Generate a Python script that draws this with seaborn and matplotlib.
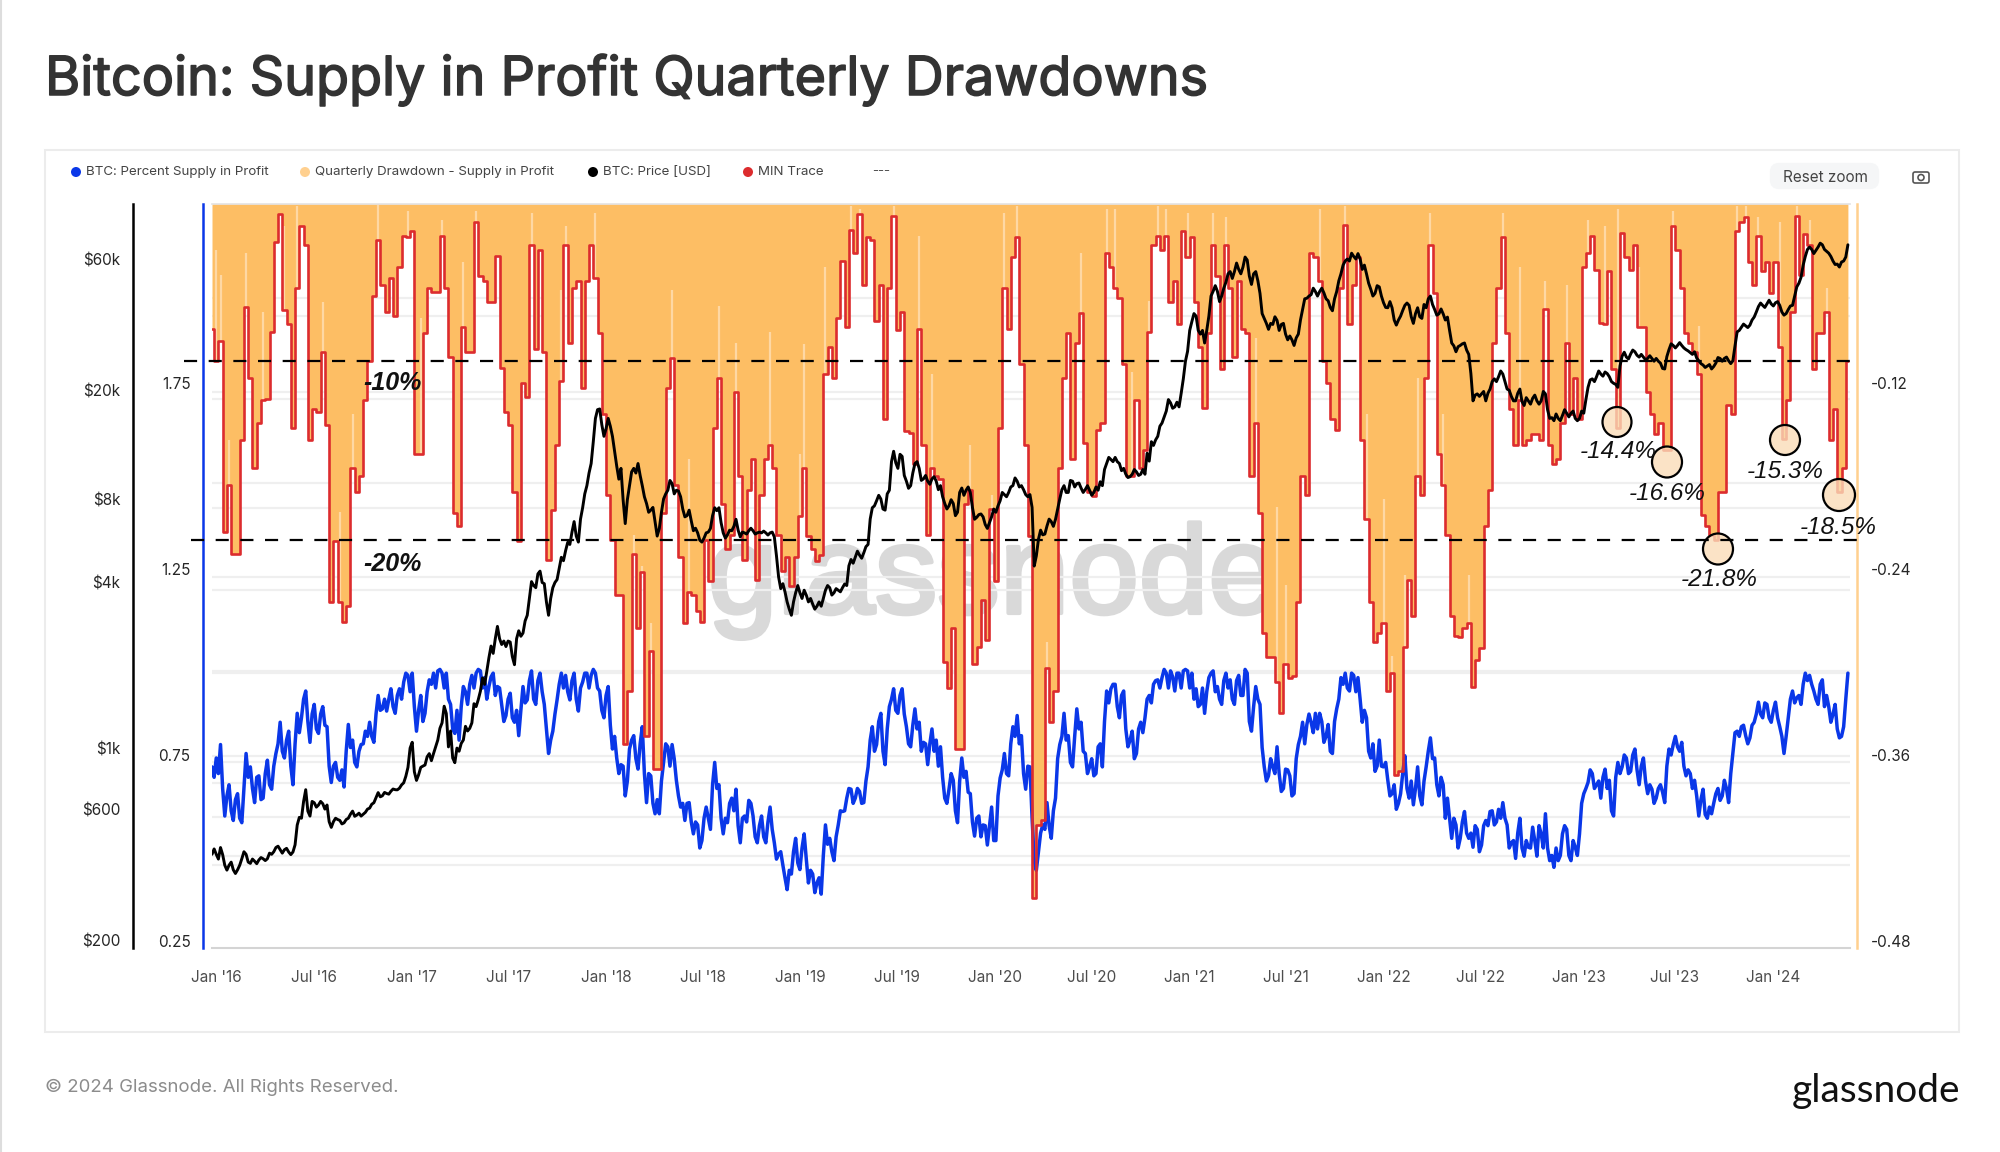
import numpy as np
import pandas as pd
import matplotlib
matplotlib.use("Agg")
import matplotlib.pyplot as plt
import matplotlib.patheffects as pe
from matplotlib.patches import Ellipse, Rectangle, FancyBboxPatch, Circle
import seaborn as sns

# values, one sample every 8 days
start_date = "2015-12-23"

# MIN trace, drawdown in percent (positive = below zero)
min_trace_pct = [
    8.5,10.6,9.3,21.6,18.6,23,23,15.7,7.1,11.7,17.5,14.6,13.1,13,8.7,2.9,1.1,7.3,8.2,14.9,5.9,1.9,3.1,15.7,13.7,13.9,10,14.7,26.1,22.2,26.1,27.4,26.4,17.5,19,18,13.1,10.6,6.4,2.8,5.7,7.4,5.2,7.7,4.5,2.5,2.6,2.2,16.6,16.6,8.8,5.9,6.1,6.1,2.5,5.9,10.3,20.4,21.2,8.4,10,10,1.6,5.1,5.4,
    6.8,6.8,3.8,11,13.9,14.7,19,22.2,12,12.9,3.1,9.8,3.4,10,23.4,20.2,16,11.9,3.1,9.4,5.9,5.4,12.3,5.4,3.1,5.2,8.8,14,19.2,22.1,25.7,25.7,35.3,31.9,23,27.8,24.2,34.8,29.3,36.9,36.9,20.4,12.3,10.4,18.6,23.2,27.5,25.5,25.7,26.7,27.4,22.1,24.8,14.9,11.7,19.8,22.7,21.8,12.6,18,23.4,18.9,16.9,24.7,
    19.2,16.9,16,17.5,21.8,24.1,23.2,25.1,23.2,20.6,17.5,21.9,22.7,23.5,23.1,11.4,9.7,11.7,7.8,4.1,8.4,2.1,3.6,1.1,5.7,2.6,2.8,8,5.7,14.3,5.9,1.2,8.6,7.4,15.1,15.2,17.2,8.5,16,21.8,17.5,18,18.2,30,31.7,27.8,35.6,35.6,19.8,18.9,30.1,29,26,28.6,20.1,24.8,14.9,5.9,8.5,3.9,2.6,10.8,16,21.9,
    45.2,40.5,40.2,30.4,33.9,31.9,17.5,11.7,8.8,16.9,9.4,7.5,15.9,19,19.3,15,14.6,3.6,4.5,5.9,6.5,10.8,18,18,13.1,17.5,16.3,8.7,3.1,2.5,3.4,2.5,6.8,5.4,8.2,2.2,3.9,2.6,6.8,9.7,13.6,8.8,3.1,5.1,11.1,3.1,5.9,10.3,5.4,8.5,8.8,18,14.6,20.4,28.1,29.7,29.7,31.3,33.3,30.1,31,30.9,26.1,18,19.2,
    3.6,3.9,5.4,10.6,12,14.3,15,5.9,1.8,8.2,5.7,3.9,15.7,20.8,26.1,28.7,28.1,27.5,31.9,30.7,37.3,37,29,24.7,27,18,19.2,11.7,3.1,6.2,16.6,18.6,21.8,27,28.3,28.4,27.8,27.5,31.6,29.9,29.1,21.2,18.9,9.4,5.9,2.6,8.8,13.7,16,13.1,16,15.7,15.3,15.3,15.7,7.2,16,17.2,16.9,14.6,9.4,14,11.7,14.3,4.5,
    3.6,2.5,4.7,8.1,8.2,4.8,11.1,14.9,2.3,3.9,4.7,3.1,8.4,8.4,12.6,14,15.3,14.6,16.3,16.3,1.9,3.4,5.9,8.8,9.4,10,11.4,20.5,21.2,21.8,22.1,19,19,13.4,14,2.2,1.6,1.3,4.2,5.7,2.5,4.8,4.2,6.2,4.2,9.7,15.6,13.1,7.4,1.2,5,2.4,3.1,11.1,8.8,8.8,7.4,15.7,13.7,19,17.5,10.6,
]

# short recoveries of the daily drawdown above the MIN trace (sample number, percent)
spike_idx = [8,4,2,1,12,17,20,26,33,30,39,46,54,49,59,62,75,83,90,82,108,112,119,123,99,103,101,131,139,138,144,150,152,160,166,169,178,183,186,189,
             196,204,210,212,216,220,222,224,229,235,238,245,250,252,260,266,271,275,280,277,283,286,289,295,303,307,313,318,323,327,330,335,343,349,358,360,363,368,372,375,379]
spike_pct = [3.6,15.7,5,3.4,7.4,1.9,0.6,6.8,14,20.3,0.5,0.9,1.5,7.8,4.2,0.9,1,1.9,1,6,6,16.9,7,9.4,21.8,27.5,23.8,8.7,9.5,16.6,4.5,0.6,0.8,0.6,2.5,11.4,16,19.2,1,0.6,
             28.7,3.6,0.8,0.8,11.3,6.7,0.6,0.8,1,1,1.3,9.1,20,25,0.8,0.6,14,19.5,24.4,29.6,11.7,1,14,24.4,1,4.5,5.4,5.7,1.5,1.9,0.8,4.5,0.9,8.3,0.6,0.6,1.3,1.6,0.6,1.5,5.9]

supply_in_profit = [
    .718,.742,.778,.586,.67,.574,.646,.568,.754,.718,.622,.694,.634,.736,.658,.754,.838,.742,.814,.67,.862,.85,.922,.784,.886,.808,.88,.826,.676,.73,.682,.664,.832,.79,.718,.778,.814,.838,.784,.91,.874,.868,.928,.862,.928,.946,.964,.97,.814,.91,.862,.952,.97,.976,.97,.97,.886,.808,.79,.934,.886,.964,.97,.976,.958,
    .934,.97,.934,.886,.856,.916,.838,.802,.934,.898,.976,.886,.97,.886,.754,.814,.898,.97,.964,.898,.97,.868,.946,.97,.964,.97,.922,.85,.934,.766,.742,.724,.64,.766,.802,.712,.826,.622,.694,.592,.592,.73,.772,.778,.682,.61,.574,.622,.538,.562,.52,.61,.55,.73,.67,.538,.568,.634,.658,.514,.586,.628,.586,.514,
    .586,.514,.61,.514,.484,.454,.388,.43,.526,.442,.538,.406,.43,.406,.376,.562,.526,.466,.562,.598,.634,.658,.634,.652,.622,.718,.826,.778,.862,.724,.88,.928,.862,.928,.826,.772,.874,.838,.784,.724,.82,.79,.772,.634,.658,.682,.568,.742,.706,.646,.532,.586,.562,.508,.61,.52,.688,.754,.694,.826,.856,.802,.658,.718,
    .466,.49,.562,.622,.526,.634,.778,.862,.802,.718,.874,.838,.754,.718,.694,.772,.718,.922,.928,.94,.85,.922,.772,.814,.754,.838,.85,.91,.94,.952,.958,.97,.976,.922,.97,.976,.976,.97,.928,.886,.862,.958,.976,.934,.886,.97,.952,.886,.964,.91,.97,.814,.934,.886,.718,.694,.718,.772,.652,.712,.694,.646,.778,.838,.832,
    .838,.862,.862,.784,.832,.754,.874,.958,.97,.922,.964,.958,.838,.85,.742,.706,.79,.718,.682,.646,.604,.646,.748,.634,.616,.718,.616,.718,.796,.742,.64,.67,.634,.526,.562,.526,.598,.526,.502,.55,.508,.574,.598,.562,.604,.622,.562,.514,.472,.58,.478,.502,.556,.478,.538,.592,.466,.448,.466,.538,.55,.466,.502,.538,.646,
    .676,.7,.67,.634,.712,.682,.586,.73,.718,.742,.706,.766,.67,.742,.646,.658,.634,.67,.622,.766,.778,.772,.784,.694,.7,.682,.586,.658,.58,.592,.646,.628,.682,.622,.754,.814,.826,.802,.796,.838,.892,.85,.886,.838,.892,.826,.754,.85,.922,.904,.886,.97,.964,.922,.886,.952,.91,.838,.886,.796,.826,.97,
]

# the same line read half way between those samples, it swings a lot inside 8 days
supply_between = [
    .69,.70,.66,.64,.60,.63,.58,.66,.69,.66,.69,.63,.70,.67,.72,.78,.76,.79,.72,.78,.81,.90,.84,.86,.82,.86,.83,.72,.72,.69,.71,.76,.77,.73,.76,.78,.80,.80,.86,.87,.90,.90,.88,.91,.90,.97,.92,.88,.87,.84,.92,.94,.93,.98,.93,.90,.82,.87,.88,.92,.94,.93,.98,.93,.90,
    .96,.91,.93,.84,.90,.85,.87,.87,.89,.95,.90,.95,.92,.82,.79,.86,.94,.93,.92,.95,.90,.93,.97,.93,.98,.93,.87,.91,.83,.80,.70,.72,.68,.79,.74,.78,.70,.70,.62,.63,.68,.78,.72,.74,.64,.62,.62,.57,.57,.50,.58,.58,.67,.66,.58,.58,.62,.60,.56,.58,.57,.62,.53,.56,
    .53,.57,.55,.47,.49,.42,.44,.49,.46,.50,.47,.44,.38,.42,.48,.51,.49,.53,.60,.60,.66,.62,.66,.62,.68,.79,.76,.84,.76,.82,.90,.87,.91,.86,.78,.83,.82,.76,.78,.78,.76,.72,.69,.62,.70,.60,.68,.69,.65,.57,.58,.53,.56,.56,.52,.64,.71,.70,.78,.80,.78,.70,.72,.58,
    .44,.54,.55,.56,.60,.74,.80,.79,.73,.80,.82,.76,.70,.74,.70,.78,.84,.89,.94,.88,.91,.82,.79,.74,.82,.81,.90,.89,.95,.93,.98,.93,.96,.97,.93,.98,.93,.90,.88,.93,.92,.97,.92,.90,.95,.93,.90,.95,.91,.98,.84,.88,.90,.77,.68,.74,.70,.70,.66,.71,.64,.74,.80,.78,.86,
    .81,.82,.84,.80,.76,.84,.90,.94,.93,.97,.92,.90,.87,.76,.78,.72,.72,.73,.64,.67,.62,.70,.66,.68,.66,.64,.68,.76,.74,.67,.69,.58,.58,.58,.50,.57,.54,.54,.56,.49,.56,.56,.60,.57,.58,.58,.50,.52,.54,.50,.52,.50,.52,.56,.50,.50,.48,.50,.48,.56,.48,.52,.48,.62,.66,
    .71,.66,.68,.69,.66,.60,.69,.70,.75,.70,.75,.71,.72,.68,.67,.62,.66,.65,.72,.75,.80,.76,.72,.71,.66,.64,.63,.59,.61,.62,.66,.64,.66,.70,.81,.80,.83,.78,.83,.86,.86,.89,.85,.87,.85,.80,.80,.90,.89,.91,.94,.95,.94,.90,.94,.88,.88,.86,.82,.80,.90,
]

btc_price = [
    411,411,435,375,375,361,361,396,411,381,388,392,396,396,411,435,427,427,419,419,525,556,706,566,633,621,628,621,515,556,546,535,556,590,571,566,584,605,633,689,671,684,697,706,715,748,851,1050,763,851,868,955,955,1070,1235,1336,1154,885,974,1070,1154,1235,1415,1610,1705,
    2130,2210,2770,2380,2340,2430,2010,2670,2620,3040,4030,3830,4400,3960,3040,3830,4100,4940,5220,5500,6660,5610,7480,9000,10830,15800,17100,13600,15800,13600,10600,10400,6550,9000,10400,10830,9000,7750,7330,6660,6290,8050,8660,9150,8660,8200,6930,7330,6170,6060,5610,6060,6290,7480,7480,6060,5960,6170,6790,5860,6060,6170,6170,6060,
    6060,6060,6060,5860,4190,3960,3400,3040,3670,3670,3750,3400,3340,3280,3280,3750,3830,3670,3750,3830,3900,4850,4940,5030,5130,5500,7480,7930,8050,7330,8660,12000,10400,11500,9340,9000,10830,10400,9520,9340,9520,9340,9000,7750,7600,7750,7200,8820,8660,8500,6790,7060,6930,6290,6930,7200,7930,8350,8500,9000,9340,9000,8350,8350,
    4590,5750,5960,6420,6660,6790,8050,9000,8500,9340,9150,8820,8720,8660,8500,8660,9000,10830,11200,11400,10830,10400,9630,9900,10100,9900,9900,11050,12600,13600,15200,16800,18000,17400,17400,22000,27700,35500,37200,32000,29700,37200,45800,45800,44000,49400,54000,54000,55000,56100,59500,48500,54000,45000,36500,33300,34700,35900,34700,32000,31500,29100,32000,39300,43200,
    44500,45700,45700,45200,42300,38900,45700,53000,59000,59000,61300,62800,55000,53000,46600,45000,47500,41600,39900,39900,34500,37200,40700,40700,35000,39900,36500,39900,44000,39300,37900,37900,36900,29700,27600,29100,29700,27000,18300,19400,19400,18300,20200,22000,22400,22900,20200,19000,18300,20200,17600,18300,18700,18300,18300,19400,15800,15500,15800,16200,16500,16500,15800,15800,16500,
    20500,22000,22400,22900,23300,22400,21200,20500,26600,26400,27100,27600,26400,26400,26100,26100,26100,25100,23900,28100,29100,29100,29100,28100,27400,27600,25600,24700,24500,23900,25100,26100,26100,25600,25600,32600,33900,34300,34500,36900,40300,40700,41200,41200,41600,40700,37500,39300,40700,47500,51500,61300,66300,62800,66300,67600,64000,61300,57300,56100,59000,67600,
]

price_between = [
    430,395,410,360,385,350,375,420,385,395,380,400,390,415,420,440,415,432,410,445,560,640,590,640,610,640,600,540,540,550,530,550,575,565,580,575,600,625,660,665,690,680,710,705,735,790,1000,820,800,860,930,900,1010,1180,1420,1010,920,1000,1040,1200,1180,1450,1500,1800,1900,
    2350,2500,2500,2450,2450,2150,2500,2550,2900,3500,3900,4300,4000,3400,3500,4000,4500,4800,5600,6100,5900,6800,8400,10000,13000,17000,15000,14500,14800,12000,9500,8000,8000,10100,10000,9800,8200,7200,7500,5900,7200,8400,9400,8400,8600,7400,7000,6700,6300,5700,5800,6100,7000,7300,6600,5800,6200,6400,6200,6100,6000,6300,6000,6100,
    6150,5950,6100,5000,3800,3700,3200,3400,3900,3500,3600,3500,3200,3400,3500,3900,3600,3800,3700,3950,4600,4700,5200,4900,5400,6800,7600,8300,7400,8400,11000,10900,11700,9800,8800,10000,11000,9400,9800,9100,9700,8700,8200,7400,8000,7000,8500,8300,8900,7500,6900,7100,6500,6600,7400,7600,8500,8200,8900,9600,8900,8700,8200,7500,
    5000,6200,6000,6800,6400,7400,8700,8500,9400,8900,9200,8500,9000,8300,8900,9300,10300,11400,11000,11000,10200,9900,9700,10300,9800,10300,11800,13000,13200,14800,16000,18500,17200,18100,19500,25500,33000,38000,33000,33000,33000,44000,48000,42000,47000,53000,51000,58000,53000,61000,52000,53000,50000,38000,35000,35000,37000,33000,35000,30500,30500,31000,36000,43000,44000,
    47000,44000,47000,43000,40000,43000,50000,57000,60000,63000,60000,60000,57000,49000,44000,48000,44000,40000,42000,36000,36000,39000,41500,37000,38000,37000,41000,43000,41000,37500,39500,36000,33000,29000,28800,29500,28000,23000,19200,19000,19800,19500,21500,21500,23500,21500,20000,18300,19500,18200,18800,17800,19200,17800,19800,17000,15900,16400,15500,17000,16000,16800,15500,16800,18500,
    21800,21500,23500,22500,23000,21500,21000,24500,27500,26000,28000,26800,27000,25800,26700,25500,25500,24000,26500,29500,28500,29800,28500,27800,27000,26200,25000,24200,24800,24400,26300,25500,26400,25000,29000,33000,34800,33800,36000,38500,41500,40000,42500,40500,42000,38500,38000,40500,44000,49000,57000,65000,65000,64500,68500,65000,63000,59000,57500,58500,61000,
]

tick_dates = pd.date_range("2016-01-01", "2024-01-01", freq="6MS")
tick_labels = ["Jan '16","Jul '16","Jan '17","Jul '17","Jan '18","Jul '18","Jan '19","Jul '19","Jan '20",
               "Jul '20","Jan '21","Jul '21","Jan '22","Jul '22","Jan '23","Jul '23","Jan '24"]
price_ticks = [200, 600, 1000, 4000, 8000, 20000, 60000]
price_labels = ["$200", "$600", "$1k", "$4k", "$8k", "$20k", "$60k"]
supply_ticks = [0.25, 0.75, 1.25, 1.75]
dd_ticks = [-0.48, -0.36, -0.24, -0.12]
grid_levels = [1.978,1.93,1.726,1.708,1.48,1.414,1.228,1.194,0.976,0.97,0.748,0.73,0.676,0.582,0.478,0.454]

BLUE = "#0A37E8"
ORANGE = "#FDBE64"
ORANGE_AXIS = "#FFD08F"
RED = "#DC2C2E"
TEXT = "#4d4d4d"


def merge_samples(on_grid, between):
    # alternate the two readings, 4 days apart
    merged = []
    for i, v in enumerate(on_grid):
        merged.append(v)
        if i < len(between):
            merged.append(between[i])
    return merged


sns.set_theme(style="white")
plt.rcParams["font.family"] = ["Inter", "Liberation Sans", "DejaVu Sans"]

W, H = 2000, 1152
fig = plt.figure(figsize=(W / 100, H / 100), dpi=100, facecolor="white")
rect = [212 / W, 1 - 948 / H, (1849.5 - 212) / W, (948 - 204) / H]

# page furniture sits behind the chart, in pixel coordinates
bg = fig.add_axes([0, 0, 1, 1], zorder=0)
bg.set_xlim(0, W)
bg.set_ylim(H, 0)
bg.axis("off")
bg.add_patch(Rectangle((45, 150), 1913.5, 882, fc="white", ec="#ececec", lw=1.5))
bg.plot([0.8, 0.8], [0, H], color="#dddddd", lw=1.5)
bg.text(708, 613, "glassnode", family="Liberation Sans", fontsize=90, color="#d9d9d9", va="baseline", ha="left",
        path_effects=[pe.withStroke(linewidth=3, foreground="#d9d9d9")])

ax_dd = fig.add_axes(rect, zorder=1)
ax_supply = ax_dd.twinx()
ax_red = ax_dd.twinx()
ax_price = ax_dd.twinx()
ax_supply.set_zorder(2)
ax_red.set_zorder(3)
ax_price.set_zorder(4)
for a in (ax_dd, ax_supply, ax_red, ax_price):
    a.patch.set_visible(False)
    for s in a.spines.values():
        s.set_visible(False)
    a.grid(False)

dates = pd.date_range(start_date, periods=len(min_trace_pct), freq="8D")
drawdown = -np.array(min_trace_pct) / 100
supply_all = merge_samples(supply_in_profit, supply_between)
price_all = merge_samples(btc_price, price_between)

# drawdown area hangs from zero, the MIN trace outlines it
ax_dd.hlines(grid_levels, 0, 1, transform=ax_supply.get_yaxis_transform(), color="#efefef", lw=1.6, zorder=1)
ax_dd.fill_between(dates, 0, drawdown, step="mid", color=ORANGE, lw=0, zorder=2)
ax_dd.vlines(dates[spike_idx], -np.array(spike_pct) / 100, drawdown[spike_idx], color="#FFEBD0", alpha=0.6, lw=1.6, zorder=3)

sns.lineplot(x=pd.date_range(start_date, periods=len(supply_all), freq="4D"), y=supply_all, ax=ax_supply,
             color=BLUE, linewidth=2.5, estimator=None, errorbar=None)
sns.lineplot(x=dates, y=drawdown, ax=ax_red, color=RED, linewidth=1.9, drawstyle="steps-mid", estimator=None, errorbar=None)
sns.lineplot(x=pd.date_range(start_date, periods=len(price_all), freq="4D"), y=price_all, ax=ax_price,
             color="black", linewidth=2.1, estimator=None, errorbar=None)

ax_dd.set_xlim(pd.Timestamp(start_date), pd.Timestamp(start_date) + pd.Timedelta(days=3075))
ax_dd.set_ylim(-0.4845, -0.0045)
ax_red.set_ylim(-0.4845, -0.0045)
ax_supply.set_ylim(0.2312, 2.231)
ax_price.set_yscale("log")
ax_price.set_ylim(187.6, 95094)

ax_dd.set_xticks(tick_dates)
ax_dd.set_xticklabels(tick_labels, fontsize=11, color=TEXT)
ax_dd.tick_params(axis="x", length=12, width=1, color="#e6e6e6", pad=4)
ax_dd.spines["bottom"].set_visible(True)
ax_dd.spines["bottom"].set_color("#d4d4d4")
ax_dd.spines["bottom"].set_linewidth(1.5)
ax_dd.spines["top"].set_visible(True)
ax_dd.spines["top"].set_color("#e4e4e4")

# right axis: drawdown
ax_dd.yaxis.tick_right()
ax_dd.set_yticks(dd_ticks)
ax_dd.set_yticklabels([f"{v:.2f}" for v in dd_ticks], fontsize=11, color=TEXT)
ax_dd.tick_params(axis="y", length=0, pad=10)
ax_dd.spines["right"].set_visible(True)
ax_dd.spines["right"].set_position(("axes", 1.0046))
ax_dd.spines["right"].set_color(ORANGE_AXIS)
ax_dd.spines["right"].set_linewidth(1.8)

# left axes: supply and price
ax_supply.yaxis.tick_left()
ax_supply.set_yticks(supply_ticks)
ax_supply.set_yticklabels([f"{v:.2f}" for v in supply_ticks], fontsize=11, color=TEXT)
ax_supply.tick_params(axis="y", length=0, pad=9)
ax_supply.spines["left"].set_visible(True)
ax_supply.spines["left"].set_position(("axes", -0.0055))
ax_supply.spines["left"].set_color(BLUE)
ax_supply.spines["left"].set_linewidth(1.8)

ax_price.yaxis.tick_left()
ax_price.set_yticks(price_ticks)
ax_price.set_yticklabels(price_labels, fontsize=11, color=TEXT)
ax_price.minorticks_off()
ax_price.tick_params(axis="y", length=0, pad=9)
ax_price.spines["left"].set_visible(True)
ax_price.spines["left"].set_position(("axes", -0.0482))
ax_price.spines["left"].set_color("black")
ax_price.spines["left"].set_linewidth(1.8)

ax_red.yaxis.set_visible(False)
for a in (ax_supply, ax_red, ax_price):
    a.set_xlabel("")
    a.xaxis.set_visible(False)
ax_red.set_ylabel("")

# title, legend, footer and the hand drawn notes go on top, pixel coordinates again
top = fig.add_axes([0, 0, 1, 1], zorder=5)
top.set_xlim(0, W)
top.set_ylim(H, 0)
top.axis("off")
top.patch.set_visible(False)

top.text(45, 95, "Bitcoin: Supply in Profit Quarterly Drawdowns", fontsize=38.8, color="#333333", va="baseline",
         path_effects=[pe.withStroke(linewidth=1.1, foreground="#333333")])

legend_items = [(76, BLUE, "BTC: Percent Supply in Profit"), (305, ORANGE_AXIS, "Quarterly Drawdown - Supply in Profit"),
                (593, "black", "BTC: Price [USD]"), (748, RED, "MIN Trace")]
for x, col, label in legend_items:
    top.add_patch(Ellipse((x, 172), 10, 10, fc=col, ec="none"))
    top.text(x + 10, 172, label, fontsize=9.6, color="#444444", va="center")
top.text(872, 171, "---", fontsize=9.5, color="#555555", va="center")

top.add_patch(FancyBboxPatch((1774, 167), 101, 18, boxstyle="round,pad=0,rounding_size=5", fc="#f5f6f7", ec="#f5f6f7", lw=6))
top.text(1825, 177, "Reset zoom", fontsize=11, color="#444444", ha="center", va="center")
top.add_patch(FancyBboxPatch((1913, 172), 16, 11, boxstyle="round,pad=0,rounding_size=2", fc="none", ec="#555555", lw=1.2))
top.add_patch(Circle((1921, 177.5), 3, fc="none", ec="#555555", lw=1.2))

top.text(45, 1087, "© 2024 Glassnode. All Rights Reserved.", fontsize=13.4, color="#8c8c8c", va="center")
top.text(1960, 1102, "glassnode", family="Lato", fontsize=28, color="#111111", ha="right", va="baseline")

note_font = "Liberation Sans"
top.plot([184, 1855], [361, 361], color="black", lw=1.6, linestyle=(0, (5.9, 5.2)))
top.plot([191, 1861], [540, 540], color="black", lw=1.6, linestyle=(0, (5.9, 5.2)))
top.text(392, 383, "-10%", family=note_font, fontsize=18, fontstyle="italic", fontweight="bold", ha="center", va="center", color="#111111")
top.text(392, 564, "-20%", family=note_font, fontsize=18, fontstyle="italic", fontweight="bold", ha="center", va="center", color="#111111")

notes = [((1617, 422), 29, 30, "-14.4%", (1618, 452)), ((1667, 462), 30, 31, "-16.6%", (1667, 493)),
         ((1718, 549), 30, 31, "-21.8%", (1719, 580)), ((1785, 440), 30, 30, "-15.3%", (1785, 471)),
         ((1839, 495), 32, 32, "-18.5%", (1838, 527))]
for xy, w, h, label, text_xy in notes:
    top.add_patch(Ellipse(xy, w, h, fc=(0.985, 0.865, 0.72, 0.8), ec="black", lw=1.6))
    top.text(text_xy[0], text_xy[1], label, family=note_font, fontsize=17.5, fontstyle="italic", ha="center", va="center", color="#111111")

fig.savefig("out.png", dpi=100, facecolor="white")
